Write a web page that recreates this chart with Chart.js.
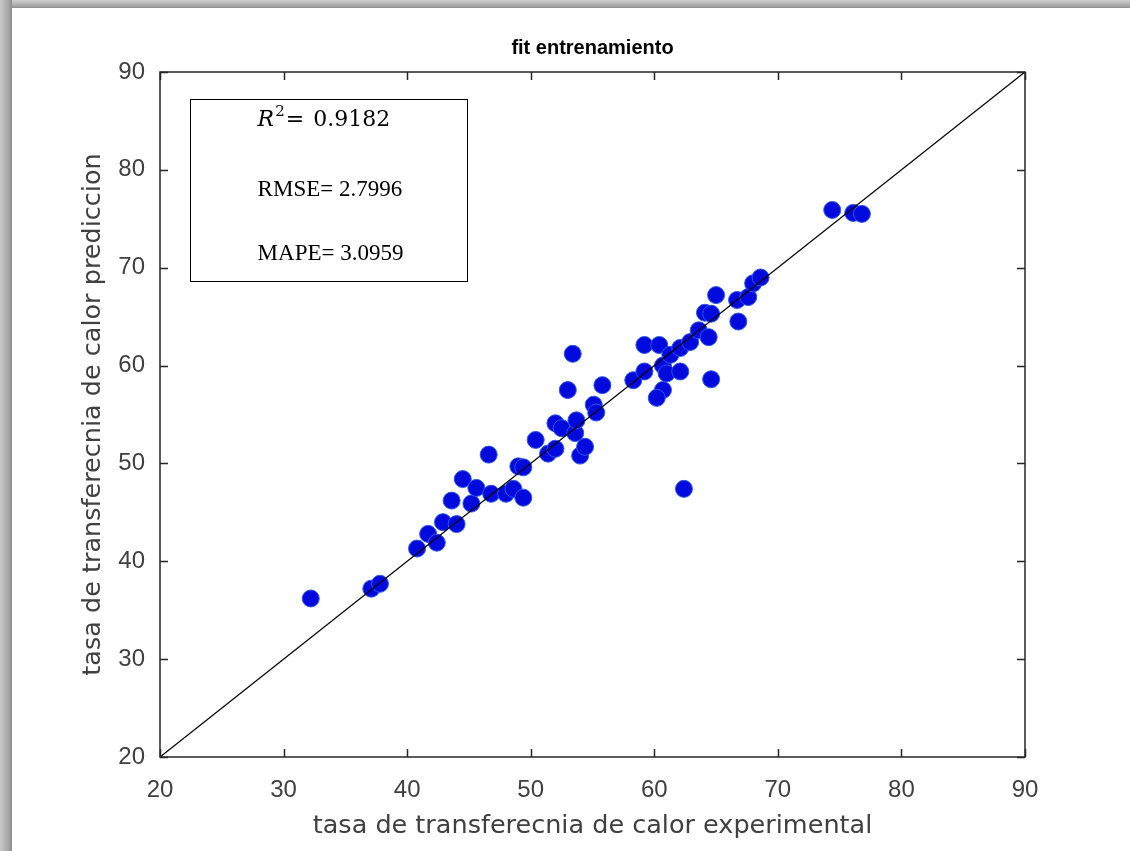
<!DOCTYPE html>
<html>
<head>
<meta charset="utf-8">
<script src="https://cdn.jsdelivr.net/npm/chart.js@4.4.0/dist/chart.umd.min.js"></script>
<style>
  html, body { margin: 0; padding: 0; background: #fff; }
  #wrap { position: relative; width: 1130px; height: 851px; overflow: hidden; }
  #plot { position: absolute; left: 0; top: 0; }
  /* borde gris de la ventana */
  .barLeft { position: absolute; left: 0; top: 0; width: 12px; height: 851px;
    background: linear-gradient(to right, #c9c9c9, #a6a6a6 70%, #8c8c8c); }
  .barTop { position: absolute; left: 0; top: 0; width: 1130px; height: 8px;
    background: linear-gradient(to bottom, #cfcfcf, #a8a8a8 70%, #8e8e8e); }
</style>
</head>
<body>
<div id="wrap">
  <canvas id="plot" width="1130" height="851"></canvas>
  <div class="barTop"></div>
  <div class="barLeft"></div>
</div>
<script>
// datos: experimental vs prediccion
const expX = [
  32.2, 37.1, 37.8, 40.8, 41.7, 42.4, 42.9, 44.0, 43.6, 45.2,
  44.5, 45.6, 46.6, 46.8, 48.0, 48.6, 49.4, 49.0, 49.4, 50.4,
  51.4, 52.0, 52.0, 52.5, 53.6, 53.7, 54.0, 54.4, 53.0, 53.4,
  55.1, 55.3, 55.8, 58.3, 59.2, 59.2, 60.4, 60.7, 61.0, 60.7,
  60.2, 62.1, 61.3, 62.1, 62.9, 63.6, 64.4, 64.6, 64.1, 64.6,
  65.0, 66.8, 66.7, 67.6, 68.0, 68.6, 62.4, 74.4, 76.1, 76.8
];
const predY = [
  36.2, 37.2, 37.7, 41.3, 42.8, 41.9, 44.0, 43.8, 46.2, 45.9,
  48.4, 47.5, 50.9, 46.9, 46.9, 47.4, 46.5, 49.7, 49.6, 52.4,
  51.0, 51.5, 54.1, 53.6, 53.1, 54.4, 50.8, 51.7, 57.5, 61.2,
  56.0, 55.2, 58.0, 58.5, 59.4, 62.1, 62.1, 60.0, 59.2, 57.5,
  56.7, 59.4, 61.1, 61.8, 62.4, 63.6, 62.9, 58.6, 65.4, 65.3,
  67.2, 64.5, 66.7, 67.0, 68.4, 69.0, 47.4, 75.9, 75.6, 75.5
];
// linea y = x
const refLine = [20, 90];
const axisMin = 20;
const axisMax = 90;

const statLabels = ["RMSE= ", "MAPE= "];
const statValues = ["0.9182", "2.7996", "3.0959"];

const chartTitle = "fit entrenamiento";
const xTitle = "tasa de transferecnia de calor experimental";
const yTitle = "tasa de transferecnia de calor prediccion";

const points = expX.map((v, i) => ({ x: v, y: predY[i] }));
const linePts = refLine.map(v => ({ x: v, y: v }));

// titulo, marco, ticks hacia adentro y cuadro de texto
const framePlugin = {
  id: "frame",
  afterDraw(chart) {
    const { ctx, chartArea: a, scales: { x, y } } = chart;
    ctx.save();

    ctx.fillStyle = "#000";
    ctx.font = 'bold 20px "Liberation Sans"';
    ctx.textAlign = "center";
    ctx.textBaseline = "middle";
    ctx.fillText(chartTitle, (a.left + a.right) / 2, 48);

    ctx.strokeStyle = "#262626";
    ctx.lineWidth = 1.5;
    ctx.strokeRect(a.left, a.top, a.right - a.left, a.bottom - a.top);
    ctx.beginPath();
    x.ticks.forEach(t => {
      const px = Math.round(x.getPixelForValue(t.value)) + 0.5;
      ctx.moveTo(px, a.bottom); ctx.lineTo(px, a.bottom - 8);
      ctx.moveTo(px, a.top); ctx.lineTo(px, a.top + 8);
    });
    y.ticks.forEach(t => {
      const py = Math.round(y.getPixelForValue(t.value)) + 0.5;
      ctx.moveTo(a.left, py); ctx.lineTo(a.left + 8, py);
      ctx.moveTo(a.right, py); ctx.lineTo(a.right - 8, py);
    });
    ctx.stroke();

    // cuadro de estadisticas
    const bx1 = x.getPixelForValue(22.4), bx2 = x.getPixelForValue(44.8);
    const by1 = y.getPixelForValue(87.2), by2 = y.getPixelForValue(68.6);
    ctx.lineWidth = 1;
    ctx.strokeStyle = "#000";
    ctx.fillStyle = "#fff";
    ctx.fillRect(bx1, by1, bx2 - bx1, by2 - by1);
    ctx.strokeRect(Math.round(bx1) + 0.5, Math.round(by1) + 0.5, Math.round(bx2 - bx1), Math.round(by2 - by1));

    const tx = x.getPixelForValue(27.9);
    ctx.fillStyle = "#000";
    ctx.textBaseline = "middle";
    ctx.textAlign = "left";
    // R^2 (fuente matematica)
    let cy = y.getPixelForValue(85.1);
    ctx.font = 'italic 22px "DejaVu Serif"';
    ctx.fillText("R", tx, cy);
    let cx = tx + ctx.measureText("R").width + 1;
    ctx.font = '15px "DejaVu Serif"';
    ctx.fillText("2", cx, cy - 8);
    cx += ctx.measureText("2").width + 1;
    ctx.font = '22px "DejaVu Serif"';
    ctx.fillText("=", cx, cy);
    cx += ctx.measureText("= ").width + 2;
    ctx.fillText(statValues[0], cx, cy);
    // RMSE, MAPE
    ctx.font = '23px "Liberation Serif"';
    const rows = [77.9, 71.4];
    statLabels.forEach((lab, i) => {
      ctx.fillText(lab + statValues[i + 1], tx, y.getPixelForValue(rows[i]));
    });
    ctx.restore();
  }
};

const tickFont = { family: "Liberation Sans", size: 24 };
const titleFont = { family: "DejaVu Sans", size: 25.5 };

new Chart(document.getElementById("plot"), {
  type: "scatter",
  data: {
    datasets: [
      {
        type: "line",
        data: linePts,
        borderColor: "#000",
        borderWidth: 1.3,
        pointRadius: 0,
        fill: false,
        order: 0,
      },
      {
        data: points,
        backgroundColor: "rgb(0, 10, 220)",
        borderColor: "rgb(45, 85, 235)",
        borderWidth: 1,
        pointRadius: 8.5,
        order: 1,
      },
    ],
  },
  options: {
    responsive: false,
    animation: false,
    devicePixelRatio: 1,
    layout: { padding: { left: 0, right: 105, top: 72, bottom: 0 } },
    plugins: {
      legend: { display: false },
      tooltip: { enabled: false },
      title: { display: false },
    },
    scales: {
      x: {
        type: "linear",
        min: axisMin,
        max: axisMax,
        grid: { display: false, drawTicks: false },
        border: { display: false },
        ticks: { stepSize: 10, color: "#404040", font: tickFont, padding: 19 },
        title: { display: true, text: xTitle, color: "#404040", font: titleFont, padding: { top: 0, bottom: 9 } },
        afterFit(scale) { scale.height = 94; },
      },
      y: {
        type: "linear",
        min: axisMin,
        max: axisMax,
        grid: { display: false, drawTicks: false },
        border: { display: false },
        ticks: { stepSize: 10, color: "#404040", font: tickFont, padding: 15 },
        title: { display: true, text: yTitle, color: "#404040", font: titleFont, padding: { top: 78, bottom: 0 } },
        afterFit(scale) { scale.width = 160; },
      },
    },
  },
  plugins: [framePlugin],
});
</script>
</body>
</html>
